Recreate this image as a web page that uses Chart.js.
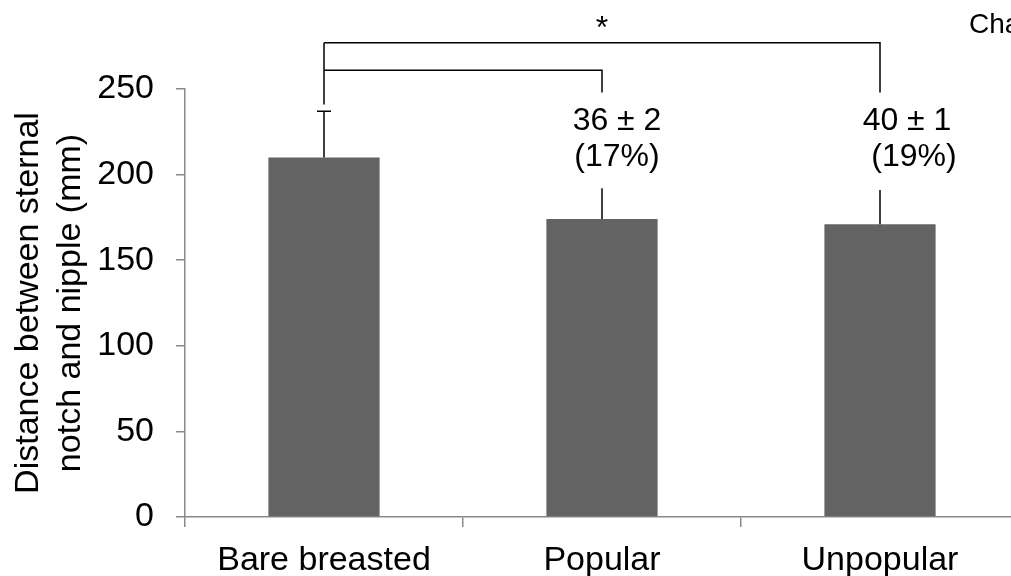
<!DOCTYPE html>
<html>
<head>
<meta charset="utf-8">
<script src="https://cdn.jsdelivr.net/npm/chart.js@4/dist/chart.umd.min.js"></script>
<style>
  html, body { margin: 0; padding: 0; overflow: hidden; background: #fff; }
  #wrap { position: relative; width: 1040px; height: 576px; }
</style>
</head>
<body>
<div id="wrap"><canvas id="chart"></canvas></div>
<script>
const categories = ['Bare breasted', 'Popular', 'Unpopular']
const distances = [210, 174, 171]
const errorsUp = [27, 18, 20]
const hasCap = [true, false, false]
const diffLabels = ['', '36 \u00b1 2', '40 \u00b1 1']
const pctLabels = ['', '(17%)', '(19%)']
const yTicks = [0, 50, 100, 150, 200, 250]
// comparisons: [from, to, bracket level in mm]
const comparisons = [[0, 2, 277], [0, 1, 261]]
const significance = '*'
const chartTitle = 'Chart Title'

const FONT = 'Liberation Sans, Arial, sans-serif'
const AXIS = '#898989'

const annotations = {
    id: 'annotations',
    afterDatasetsDraw(chart) {
        const { ctx, scales: { x, y } } = chart
        const bars = chart.getDatasetMeta(0).data
        ctx.save()
        ctx.strokeStyle = '#000'
        ctx.lineWidth = 1.5
        // error bars
        bars.forEach((bar, i) => {
            const top = y.getPixelForValue(distances[i] + errorsUp[i])
            ctx.beginPath()
            ctx.moveTo(bar.x, bar.y)
            ctx.lineTo(bar.x, top)
            if (hasCap[i]) {
                ctx.moveTo(bar.x - 7, top)
                ctx.lineTo(bar.x + 7, top)
            }
            ctx.stroke()
        })
        // significance brackets
        const legEnd = y.getPixelForValue(248)
        const leftEnd = y.getPixelForValue(241)
        comparisons.forEach(([a, b, level]) => {
            const yl = y.getPixelForValue(level)
            ctx.beginPath()
            ctx.moveTo(bars[a].x, yl)
            ctx.lineTo(bars[b].x, yl)
            ctx.lineTo(bars[b].x, legEnd)
            ctx.stroke()
        })
        const topLevel = Math.max(...comparisons.map(c => c[2]))
        ctx.beginPath()
        ctx.moveTo(bars[0].x, y.getPixelForValue(topLevel))
        ctx.lineTo(bars[0].x, leftEnd)
        ctx.stroke()
        // texts
        ctx.fillStyle = '#000'
        ctx.textAlign = 'center'
        ctx.textBaseline = 'middle'
        ctx.font = '32px ' + FONT
        ctx.fillText(significance, x.getPixelForValue(1), y.getPixelForValue(285))
        const shift = [0, 15, 27]
        bars.forEach((bar, i) => {
            if (!diffLabels[i]) return
            ctx.fillText(diffLabels[i], bar.x + shift[i], y.getPixelForValue(231))
            ctx.fillText(pctLabels[i], bar.x + shift[i] + (i === 2 ? 7 : 0), y.getPixelForValue(210))
        })
        ctx.textAlign = 'left'
        ctx.font = '28px ' + FONT
        ctx.fillText(chartTitle, 969, 25)
        ctx.restore()
    }
}

new Chart(document.getElementById('chart'), {
    type: 'bar',
    data: {
        labels: categories,
        datasets: [
            {
                label: 'Distance',
                data: distances,
                backgroundColor: '#636363',
                borderWidth: 0,
                barPercentage: 0.4,
                categoryPercentage: 1
            }
        ]
    },
    options: {
        responsive: true,
        maintainAspectRatio: false,
        animation: false,
        layout: {
            padding: { top: 89, right: 21, left: 0, bottom: 0 }
        },
        plugins: {
            legend: { display: false },
            tooltip: { enabled: false }
        },
        scales: {
            x: {
                afterFit(scale) { scale.height = 59 },
                grid: {
                    offset: true,
                    drawOnChartArea: false,
                    drawTicks: true,
                    tickLength: 10,
                    color: AXIS,
                    lineWidth: 1.5
                },
                border: { color: AXIS, width: 1.5 },
                ticks: {
                    color: '#000',
                    padding: 13,
                    font: { family: FONT, size: 34 }
                }
            },
            y: {
                min: 0,
                max: 250,
                afterFit(scale) { scale.width = 185 },
                afterBuildTicks(scale) { scale.ticks = yTicks.map(v => ({ value: v })) },
                grid: {
                    drawOnChartArea: false,
                    drawTicks: true,
                    tickLength: 9,
                    color: AXIS,
                    lineWidth: 1.5
                },
                border: { color: AXIS, width: 1.5 },
                ticks: {
                    color: '#000',
                    padding: 22,
                    font: { family: FONT, size: 34 }
                },
                title: {
                    display: true,
                    text: ['Distance between sternal', 'notch and nipple (mm)'],
                    color: '#000',
                    padding: { top: 7, bottom: 0 },
                    font: { family: FONT, size: 34, lineHeight: 1.25 }
                }
            }
        }
    },
    plugins: [annotations]
})
</script>
</body>
</html>
